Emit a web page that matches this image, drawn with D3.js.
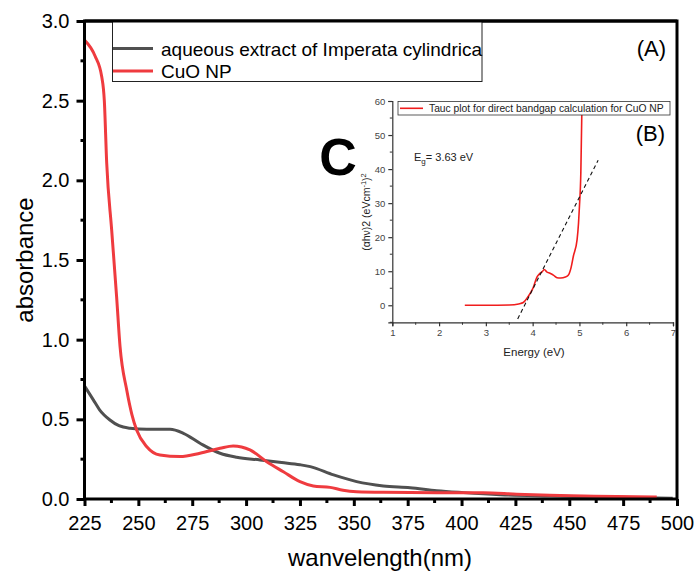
<!DOCTYPE html>
<html>
<head>
<meta charset="utf-8">
<script src="https://cdn.jsdelivr.net/npm/d3@7"></script>
<style>
  html, body { margin: 0; padding: 0; background: #fff; }
  svg { display: block; font-family: "Liberation Sans", Arial, sans-serif; }
</style>
</head>
<body>
<svg id="chart" width="697" height="573"></svg>
<script>
// ---------- main chart data ----------
const seriesNames = ["aqueous extract of Imperata cylindrica", "CuO NP"];
const seriesColors = ["#505050", "#ef3b3f"];

const extractWavelength = [225.2, 229.1, 232, 236.8, 241, 246.1, 253.9, 264.7, 270.9, 278.6, 287.9, 295.6, 306.5, 316.5, 325, 329.8, 340.6, 351.3, 363.7, 376.1, 388.5, 400.9, 418, 441, 472, 498];
const extractAbsorbance = [0.705, 0.622, 0.56, 0.496, 0.46, 0.444, 0.437, 0.437, 0.412, 0.350, 0.287, 0.262, 0.245, 0.229, 0.215, 0.203, 0.151, 0.109, 0.082, 0.071, 0.052, 0.040, 0.027, 0.019, 0.011, 0.004];

const cuoWavelength = [225, 229.9, 233, 234.2, 235.3, 237.6, 239.9, 241.5, 244.6, 247, 249.2, 253.9, 260, 269.3, 278.6, 287.9, 294, 301.8, 309.6, 317.3, 325, 331.2, 339, 345, 351.3, 363.7, 388.5, 410, 425.6, 441, 456.5, 472, 490.6];
const cuoAbsorbance = [2.88, 2.78, 2.65, 2.5, 2.11, 1.69, 1.27, 0.956, 0.684, 0.53, 0.433, 0.328, 0.276, 0.266, 0.287, 0.318, 0.333, 0.308, 0.234, 0.171, 0.109, 0.082, 0.073, 0.055, 0.046, 0.042, 0.040, 0.040, 0.030, 0.023, 0.019, 0.015, 0.012];

const xTicks = [225, 250, 275, 300, 325, 350, 375, 400, 425, 450, 475, 500];
const yTicks = [0.0, 0.5, 1.0, 1.5, 2.0, 2.5, 3.0];

// ---------- inset (Tauc plot) data ----------
const taucEnergy = [2.55, 3.0, 3.5, 3.7, 3.8, 3.9, 4.0, 4.1, 4.15, 4.2, 4.25, 4.3, 4.37, 4.45, 4.52, 4.6, 4.7, 4.76, 4.82, 4.87, 4.95, 4.98, 5.0, 5.03, 5.05, 5.06];
const taucValue = [0, 0, 0.1, 0.4, 0.8, 2.5, 4.8, 8.5, 9.3, 9.8, 10.5, 9.8, 9.4, 8.8, 8.1, 8.0, 8.3, 8.8, 11, 14.4, 19.3, 24, 29, 39, 55.6, 62];
const fitEnergy = [3.68, 5.40];
const fitValue = [-4.0, 42.6];
const insetXTicks = [1, 2, 3, 4, 5, 6, 7];
const insetYTicks = [0, 10, 20, 30, 40, 50, 60];

const svg = d3.select("#chart");

// ---------- main plot ----------
const L = 84.5, R = 677, T = 21, B = 499;
const x = d3.scaleLinear().domain([225, 500]).range([L, R]);
const y = d3.scaleLinear().domain([0, 3]).range([B, T]);

svg.append("clipPath").attr("id", "mainClip")
  .append("rect").attr("x", L).attr("y", T).attr("width", R - L).attr("height", B - T);

const line = d3.line().x(d => x(d[0])).y(d => y(d[1])).curve(d3.curveMonotoneX);
const extractData = extractWavelength.map((w, i) => [w, extractAbsorbance[i]]);
const cuoData = cuoWavelength.map((w, i) => [w, cuoAbsorbance[i]]);

const curves = svg.append("g").attr("clip-path", "url(#mainClip)");
curves.append("path").datum(extractData).attr("d", line)
  .attr("fill", "none").attr("stroke", seriesColors[0]).attr("stroke-width", 3);
curves.append("path").datum(cuoData).attr("d", line)
  .attr("fill", "none").attr("stroke", seriesColors[1]).attr("stroke-width", 3);

// axes
const xMinor = d3.range(237.5, 500, 25);
const yMinor = d3.range(0.25, 3, 0.5);

const xAxis = svg.append("g").attr("transform", `translate(0,${B})`)
  .call(d3.axisBottom(x).tickValues(xTicks).tickFormat(d3.format("d")).tickSize(7).tickPadding(10));
const yAxis = svg.append("g").attr("transform", `translate(${L},0)`)
  .call(d3.axisLeft(y).tickValues(yTicks).tickFormat(d3.format(".1f")).tickSize(8).tickPadding(7));

[xAxis, yAxis].forEach(a => {
  a.select(".domain").remove();
  a.selectAll(".tick line").attr("stroke", "#000").attr("stroke-width", 3);
  a.selectAll(".tick text").attr("fill", "#000").style("font-size", "20px")
    .style("font-family", '"Liberation Sans", Arial, sans-serif');
});

svg.append("g").selectAll("line").data(xMinor).join("line")
  .attr("x1", d => x(d)).attr("x2", d => x(d)).attr("y1", B).attr("y2", B + 4)
  .attr("stroke", "#000").attr("stroke-width", 3);
svg.append("g").selectAll("line").data(yMinor).join("line")
  .attr("y1", d => y(d)).attr("y2", d => y(d)).attr("x1", L).attr("x2", L - 4)
  .attr("stroke", "#000").attr("stroke-width", 3);

// frame
svg.append("rect").attr("x", L).attr("y", T).attr("width", R - L).attr("height", B - T)
  .attr("fill", "none").attr("stroke", "#000").attr("stroke-width", 3);

// axis titles
svg.append("text").attr("x", 380).attr("y", 566).attr("text-anchor", "middle")
  .style("font-size", "24px").text("wanvelength(nm)");
svg.append("text").attr("transform", "translate(33,260) rotate(-90)").attr("text-anchor", "middle")
  .style("font-size", "24px").text("absorbance");

// legend
svg.append("rect").attr("x", 112.5).attr("y", 21).attr("width", 369.5).attr("height", 60.5)
  .attr("fill", "#fff").attr("stroke", "#222").attr("stroke-width", 1);
const legRows = [48.5, 71];
seriesNames.forEach((name, i) => {
  svg.append("line").attr("x1", 113).attr("x2", 153).attr("y1", legRows[i]).attr("y2", legRows[i])
    .attr("stroke", seriesColors[i]).attr("stroke-width", 3);
  svg.append("text").attr("x", 161).attr("y", legRows[i] + 7).style("font-size", "19px").text(name);
});
// redraw top frame over legend
svg.append("line").attr("x1", L).attr("x2", R).attr("y1", T).attr("y2", T).attr("stroke", "#000").attr("stroke-width", 3);

svg.append("text").attr("x", 666).attr("y", 56).attr("text-anchor", "end")
  .style("font-size", "22px").text("(A)");

// big C
svg.append("text").attr("x", 338).attr("y", 175).attr("text-anchor", "middle")
  .style("font-size", "52px").style("font-weight", "bold").text("C");

// ---------- inset ----------
const iL = 392.3, iR = 673, iT = 101, iB = 322.3;
const ix = d3.scaleLinear().domain([1, 7]).range([iL, iR]);
const iy = d3.scaleLinear().domain([-5, 60]).range([iB, iT]);

svg.append("clipPath").attr("id", "insetClip")
  .append("rect").attr("x", iL).attr("y", iT).attr("width", iR - iL).attr("height", iB - iT);

const inset = svg.append("g");
const iAxX = inset.append("g").attr("transform", `translate(0,${iB})`)
  .call(d3.axisBottom(ix).tickValues(insetXTicks).tickFormat(d3.format("d")).tickSize(4).tickPadding(3));
const iAxY = inset.append("g").attr("transform", `translate(${iL},0)`)
  .call(d3.axisLeft(iy).tickValues(insetYTicks).tickFormat(d3.format("d")).tickSize(4).tickPadding(3));
[iAxX, iAxY].forEach(a => {
  a.select(".domain").attr("stroke", "#333").attr("stroke-width", 1.2);
  a.selectAll(".tick line").attr("stroke", "#333").attr("stroke-width", 1.2);
  a.selectAll(".tick text").attr("fill", "#444").style("font-size", "9.5px")
    .style("font-family", '"Liberation Sans", Arial, sans-serif');
});
inset.append("g").selectAll("line").data(d3.range(1.5, 7, 1)).join("line")
  .attr("x1", d => ix(d)).attr("x2", d => ix(d)).attr("y1", iB).attr("y2", iB + 2.5)
  .attr("stroke", "#333").attr("stroke-width", 1);
inset.append("g").selectAll("line").data(d3.range(-5, 60, 10)).join("line")
  .attr("y1", d => iy(d)).attr("y2", d => iy(d)).attr("x1", iL).attr("x2", iL - 2.5)
  .attr("stroke", "#333").attr("stroke-width", 1);

const iLine = d3.line().x(d => ix(d[0])).y(d => iy(d[1])).curve(d3.curveMonotoneX);
const taucData = taucEnergy.map((e, i) => [e, taucValue[i]]);
const fitData = fitEnergy.map((e, i) => [e, fitValue[i]]);
const iCurves = inset.append("g").attr("clip-path", "url(#insetClip)");
iCurves.append("path").datum(taucData).attr("d", iLine)
  .attr("fill", "none").attr("stroke", "#f01d1d").attr("stroke-width", 1.6);
inset.append("path").datum(fitData).attr("d", d3.line().x(d => ix(d[0])).y(d => iy(d[1])))
  .attr("fill", "none").attr("stroke", "#111").attr("stroke-width", 1.1).attr("stroke-dasharray", "4,3");

inset.append("text").attr("x", 534).attr("y", 356).attr("text-anchor", "middle")
  .style("font-size", "11.5px").attr("fill", "#222").text("Energy (eV)");
const yl = inset.append("text").attr("transform", "translate(370,212) rotate(-90)").attr("text-anchor", "middle")
  .style("font-size", "10.5px").attr("fill", "#222");
yl.append("tspan").text("(αhν)2 (eVcm");
yl.append("tspan").attr("dy", -4).style("font-size", "7.5px").text("-1");
yl.append("tspan").attr("dy", 4).text(")");
yl.append("tspan").attr("dy", -4).style("font-size", "7.5px").text("2");

const eg = inset.append("text").attr("x", 414).attr("y", 160.5).style("font-size", "11px").attr("fill", "#222");
eg.append("tspan").text("E");
eg.append("tspan").attr("dy", 3).style("font-size", "8px").text("g");
eg.append("tspan").attr("dy", -3).text("= 3.63 eV");

// inset legend
inset.append("rect").attr("x", 398).attr("y", 101.5).attr("width", 272).attr("height", 13.5)
  .attr("fill", "#fff").attr("stroke", "#333").attr("stroke-width", 0.8);
inset.append("line").attr("x1", 400).attr("x2", 423).attr("y1", 108.3).attr("y2", 108.3)
  .attr("stroke", "#f01d1d").attr("stroke-width", 1.6);
inset.append("text").attr("x", 429).attr("y", 112).style("font-size", "10.3px").attr("fill", "#222")
  .text("Tauc plot for direct bandgap calculation for CuO NP");

inset.append("text").attr("x", 665).attr("y", 141).attr("text-anchor", "end")
  .style("font-size", "22px").text("(B)");
</script>
</body>
</html>
